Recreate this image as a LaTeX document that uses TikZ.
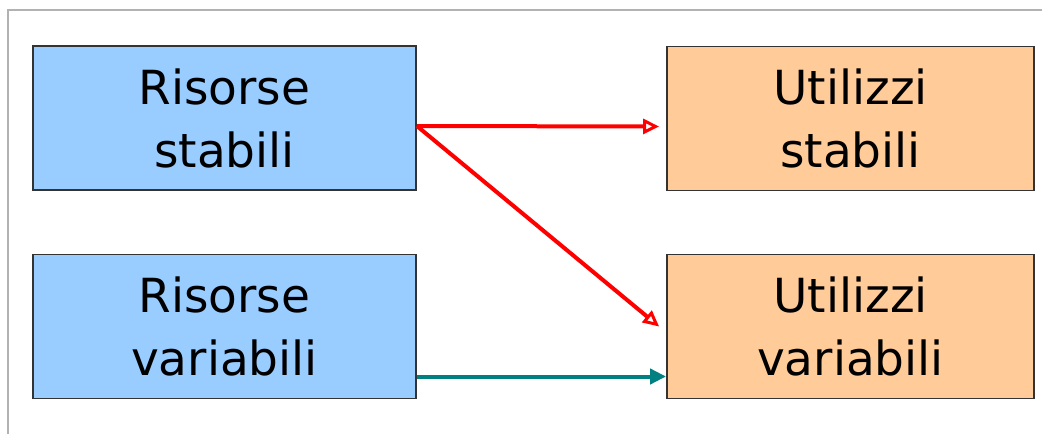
\documentclass[tikz,border=0pt]{standalone}
\usepackage{fontspec}
\setmainfont{DejaVu Sans}
\usetikzlibrary{arrows.meta}
\definecolor{risblue}{HTML}{99CCFF}
\definecolor{utiorange}{HTML}{FFCC99}
\definecolor{boxline}{HTML}{333333}
\definecolor{tealline}{HTML}{008080}
\begin{document}
\begin{tikzpicture}[x=1pt,y=-1pt,
        box/.style={shape=rectangle,draw=boxline,line width=1.8pt,minimum height=144pt,align=center,inner sep=0pt,font=\fontsize{47}{63}\selectfont},
        redarrow/.style={draw=red,line width=4pt,-{Triangle[open,length=16pt,width=15pt,line width=3pt]}},
        tealarrow/.style={draw=tealline,line width=4pt,-{Triangle[length=16pt,width=15pt]}}]
        \useasboundingbox (0,0) rectangle (1042,434);
        \draw[gray!60,line width=1.5pt] (1042,10) -- (8,10) -- (8,434);

        \node[box,fill=risblue,minimum width=383pt] (RS) at (224.5,118) {Risorse\\stabili};
        \node[box,fill=risblue,minimum width=383pt] (RV) at (224.5,326.5) {Risorse\\variabili};
        \node[box,fill=utiorange,minimum width=367pt] (US) at (850.5,118.5) {Utilizzi\\stabili};
        \node[box,fill=utiorange,minimum width=367pt] (UV) at (850.5,326.5) {Utilizzi\\variabili};

        \draw [redarrow] ([yshift=-8pt]RS.east) -- ([xshift=-7pt,yshift=-8pt]US.west);
        \draw [redarrow] ([yshift=-8pt]RS.east) -- ([xshift=-7pt]UV.west);
        \draw [tealarrow] ([yshift=-50pt]RV.east) -- ([yshift=-50pt]UV.west);
    \end{tikzpicture}
\end{document}
